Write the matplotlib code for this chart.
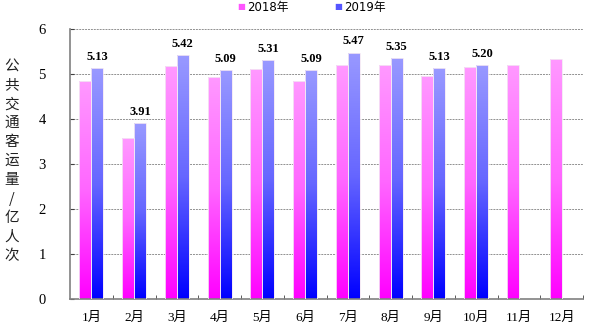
import numpy as np
import matplotlib
matplotlib.use("Agg")
import matplotlib.pyplot as plt
from matplotlib.colors import LinearSegmentedColormap
from matplotlib.patches import Rectangle

months = ["1月", "2月", "3月", "4月", "5月", "6月", "7月", "8月", "9月", "10月", "11月", "12月"]
v2018 = [4.85, 3.57, 5.18, 4.94, 5.10, 4.85, 5.21, 5.19, 4.96, 5.16, 5.19, 5.33]
v2019 = [5.13, 3.91, 5.42, 5.09, 5.31, 5.09, 5.47, 5.35, 5.13, 5.20]
labels2019 = ["5.13", "3.91", "5.42", "5.09", "5.31", "5.09", "5.47", "5.35", "5.13", "5.20"]
yticks = [0, 1, 2, 3, 4, 5, 6]
ylabel = "公共交通客运量/亿人次"

CJK = ["Liberation Serif", "Noto Sans CJK SC"]
plt.rcParams['font.family'] = ["DejaVu Sans", "Noto Sans CJK SC"]

fig = plt.figure(figsize=(5.89, 3.30), dpi=100)
ax = fig.add_axes([70/589, 1-299/330, (583-70)/589, 270/330])

cmap_pink = LinearSegmentedColormap.from_list("pink", ["#ff00ff", "#ff66ff", "#ff99ff"])
cmap_blue = LinearSegmentedColormap.from_list("blue", ["#0000ff", "#6666ff", "#9999ff"])
grad = np.linspace(0, 1, 256).reshape(-1, 1)

w = 0.28
x = np.arange(len(months))

def gbar(xc, h, cmap):
    x0 = xc - w/2
    im = ax.imshow(grad, cmap=cmap, origin="lower", aspect="auto",
                   extent=[x0, x0+w, 0, h], zorder=2)
    r = Rectangle((x0, 0), w, h, facecolor="none", edgecolor="#f4e8f4", lw=0.6, zorder=3)
    ax.add_patch(r)
    im.set_clip_path(r)

for i, v in enumerate(v2018):
    gbar(x[i] - w/2, v, cmap_pink)
for i, v in enumerate(v2019):
    gbar(x[i] + w/2, v, cmap_blue)
    ax.text(x[i] + w/2, v + 0.12, labels2019[i], ha="center", va="bottom",
            fontsize=9, fontweight="bold", family="Liberation Serif", zorder=4)

ax.set_xlim(-0.5, len(months) - 0.5)
ax.set_ylim(0, 6)
ax.set_yticks(yticks)
ax.set_yticklabels([str(t) for t in yticks], family=CJK, fontsize=10.5)
ax.set_xticks(x)
ax.set_xticklabels(months, family=CJK, fontsize=9.5)
ax.set_xticks(np.arange(0.5, len(months), 1), minor=True)
ax.tick_params(axis="x", which="major", length=0, pad=9)
ax.tick_params(axis="x", which="minor", length=3, direction="in", color="#404040")
ax.tick_params(axis="y", length=3, direction="in", color="#404040", pad=20)
for t in ax.get_yticklabels():
    t.set_horizontalalignment("center")

ax.grid(axis="y", linestyle=(0, (2, 1)), color="#909090", lw=0.7, zorder=1)
ax.set_axisbelow(True)
for s in ["top", "right"]:
    ax.spines[s].set_visible(False)
for s in ["left", "bottom"]:
    ax.spines[s].set_color("#808080")
    ax.spines[s].set_linewidth(1.2)

fig.text(12/589, 1-161/330, "\n".join(ylabel), ha="center", va="center",
         fontsize=10.5, family="Noto Sans CJK SC", linespacing=1.45, color="#202020")

# legend
fig.text(241/589, 1-7/330, "■", color="#ff55ff", fontsize=6, ha="center", va="center")
fig.text(247/589, 1-7/330, "2018年", fontsize=8.5, family=["DejaVu Sans", "Noto Sans CJK SC"],
         ha="left", va="center")
fig.text(338/589, 1-7/330, "■", color="#5555ff", fontsize=6, ha="center", va="center")
fig.text(344/589, 1-7/330, "2019年", fontsize=8.5, family=["DejaVu Sans", "Noto Sans CJK SC"],
         ha="left", va="center")

fig.savefig("out.png", dpi=100)
